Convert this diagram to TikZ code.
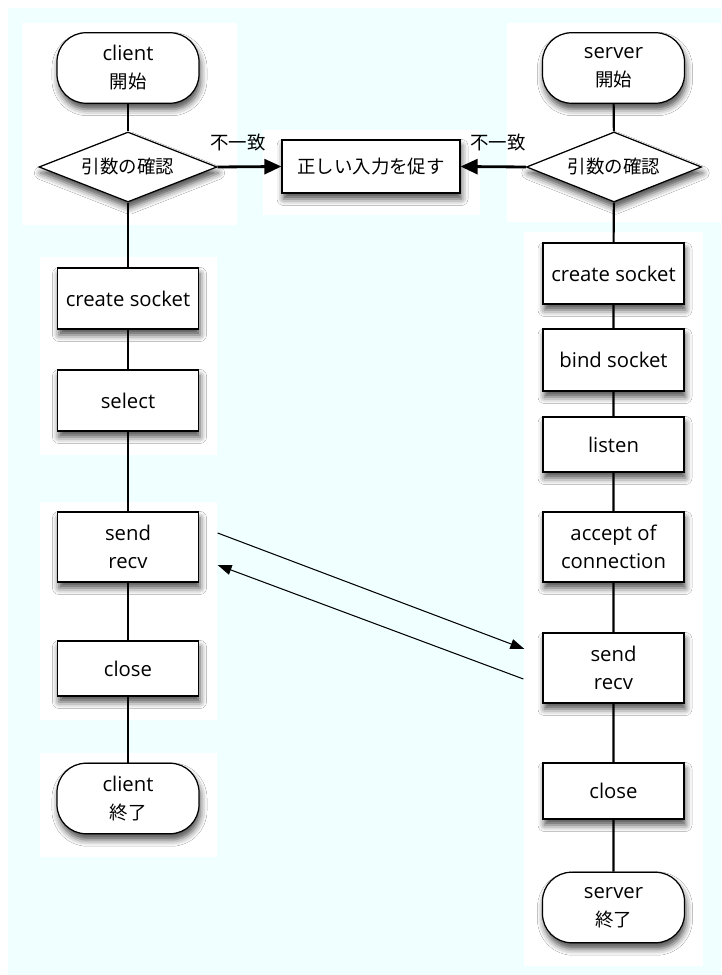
\documentclass[tikz,border=0pt]{standalone}
\usepackage{fontspec}
\setmainfont{Open Sans}[Scale=1.1]
\newfontfamily\jp{Noto Sans CJK JP}
\usepackage{xcolor}
\usepackage{tikz}
\usetikzlibrary{arrows.meta,positioning,shapes.geometric,shadows.blur}
\definecolor{bgcyan}{RGB}{240,255,255}

\begin{document}
\begin{tikzpicture}[
  font=\fontsize{10.5}{16}\selectfont,
  every node/.style={align=center},
  shade/.style={blur shadow={shadow xshift=0.03cm, shadow yshift=-0.12cm,
                shadow blur radius=0.13cm, shadow opacity=70}},
  proc/.style={draw, fill=white, line width=0.7pt, minimum width=2.82cm,
               minimum height=1.22cm, inner sep=1pt, shade},
  term/.style={draw, fill=white, line width=0.7pt, rounded corners=0.58cm,
               minimum width=2.84cm, minimum height=1.41cm, inner sep=1pt, shade},
  chk/.style={draw, fill=white, diamond, aspect=2.55, line width=0.7pt,
              minimum width=3.56cm, minimum height=1.4cm, inner sep=1pt, shade},
  link/.style={line width=1.2pt},
  warn/.style={-{Triangle[length=0.34cm, width=0.3cm]}, line width=1.6pt},
  arr/.style={-{Triangle[length=0.28cm, width=0.2cm]}, line width=0.6pt},
]

%% --- background and white panels ---
\useasboundingbox (0,0) rectangle (14.42,19.5);
\fill[bgcyan] (0.16,0) rectangle (14.42,19.34);
\fill[white] (0.44,15.0)  rectangle (4.74,19.04);
\fill[white] (5.26,15.2)  rectangle (9.6,16.9);
\fill[white] (10.14,15.06) rectangle (14.42,19.04);
\fill[white] (0.8,10.4)   rectangle (4.34,14.36);
\fill[white] (0.8,5.1)    rectangle (4.34,9.46);
\fill[white] (0.8,2.36)   rectangle (4.34,4.44);
\fill[white] (10.48,0.18) rectangle (14.06,14.86);

%% --- client side ---
\node[term] (cstart)  at (2.56,18.14) {client\\{\jp 開始}};
\node[chk]  (cchk)    at (2.56,16.16) {\jp 引数の確認};
\node[proc] (ccreate) at (2.56,13.53) {create socket};
\node[proc] (cselect) at (2.56,11.49) {select};
\node[proc, minimum height=1.4cm] (csend) at (2.56,8.56) {send\\recv};
\node[proc, minimum height=1.1cm] (cclose) at (2.56,6.13) {close};
\node[term] (cend)    at (2.56,3.53) {client\\{\jp 終了}};

%% --- prompt box ---
\node[proc, minimum width=3.56cm, minimum height=1.06cm] (prompt) at (7.42,16.17)
  {\jp 正しい入力を促す};

%% --- server side ---
\node[term] (sstart)  at (12.27,18.14) {server\\{\jp 開始}};
\node[chk, minimum width=3.5cm] (schk) at (12.28,16.16) {\jp 引数の確認};
\node[proc] (screate) at (12.27,14.03) {create socket};
\node[proc, minimum height=1.24cm] (sbind) at (12.27,12.3) {bind socket};
\node[proc, minimum height=1.1cm] (slisten) at (12.27,10.61) {listen};
\node[proc, minimum height=1.4cm] (saccept) at (12.27,8.56) {accept of\\connection};
\node[proc, minimum height=1.4cm] (ssend) at (12.27,6.14) {send\\recv};
\node[proc, minimum height=1.12cm] (sclose) at (12.27,3.68) {close};
\node[term] (send)    at (12.27,1.35) {server\\{\jp 終了}};

%% --- flow lines ---
\draw[link] (cstart) -- (cchk) -- (ccreate) -- (cselect) -- (csend) -- (cclose) -- (cend);
\draw[link] (sstart) -- (schk) -- (screate) -- (sbind) -- (slisten) -- (saccept)
  -- (ssend) -- (sclose) -- (send);

%% --- mismatch arrows ---
\draw[warn] (cchk.east) -- (prompt.west);
\draw[warn] (schk.west) -- (prompt.east);
\node (nga) at (4.76,16.64) {\jp 不一致};
\node (ngb) at (9.96,16.64) {\jp 不一致};

%% --- data exchange ---
\draw[arr] ([shift={(0.37,0.28)}]csend.east) -- ([shift={(-0.36,0.38)}]ssend.west);
\draw[arr] ([shift={(-0.38,-0.22)}]ssend.west) -- ([shift={(0.37,-0.36)}]csend.east);

\end{tikzpicture}
\end{document}
